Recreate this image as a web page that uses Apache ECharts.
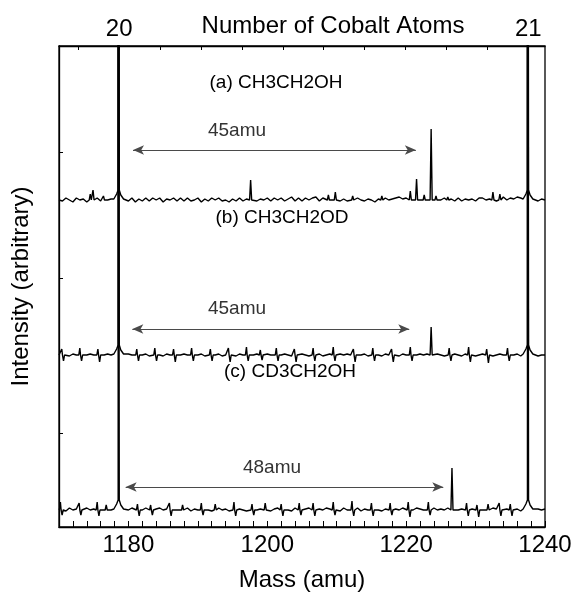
<!DOCTYPE html>
<html><head><meta charset="utf-8">
<script src="https://cdn.jsdelivr.net/npm/echarts@6/dist/echarts.min.js"></script>
<style>html,body{margin:0;padding:0;background:#fff}#c{width:573px;height:595px}</style>
</head><body><div id="c"></div>
<script>
// ---------- data ----------
const massStart = 1170, massStep = 0.5;      // noise sampling grid (amu)
const cobaltMass = 58.933;
const topTickAtoms = [19.9,20.0,20.1,20.2,20.3,20.4,20.5,20.6,20.7,20.8,20.9,21.0];
const topLabelAtoms = [20, 21];
const bottomLabels = [1180, 1200, 1220, 1240];
const sampleNames = ['(a) CH3CH2OH', '(b) CH3CH2OD', '(c) CD3CH2OH'];
const shiftLabels = ['45amu', '45amu', '48amu'];
const shiftArrows = [[1180.66, 1221.4], [1180.56, 1220.45], [1179.6, 1225.35]];
const offsets = [327, 172, 17];        // vertical offsets of the three traces
const arrowLevels = [377, 198, 40];

const noiseA = [
0,-1,2,0,-2,2,0,1,-2,1,
0,2,-1,2,0,1,2,3,0,0,
-1,2,-2,1,-1,2,-1,2,0,2,
-2,1,0,2,-1,2,-1,2,-1,0,
2,-2,1,-1,2,0,2,-1,0,-2,
1,-1,2,-1,1,-1,2,-1,1,0,
2,-1,2,0,2,-1,1,3,-1,2,
-1,2,0,2,3,-1,2,-1,2,0,
2,-1,1,-1,2,0,2,0,-1,1,
0,-2,1,-1,2,0,1,2,3,1,
2,0,1,2,0,1,2,0,1,-1,
0,2,-1,1,-1,2,-1,1,0,1,
-1,2,2,0,1,2,-1,1,3,0,
2,1,3,2,0,1,-1,2,-1,1,
0];
const noiseB = [
0,1,0,-1,1,0,1,-1,0,1,
0,-1,1,0,1,0,-1,1,0,0,
1,0,-1,1,0,1,-1,0,1,0,
-1,1,0,1,-1,0,1,0,-1,1,
0,1,-1,0,1,0,1,-1,0,1,
0,-1,1,0,1,-1,0,1,0,-1,
1,0,1,-1,0,1,0,-1,1,0,
1,0,-1,1,0,1,-1,0,1,0,
-1,1,0,1,0,-1,1,0,1,-1,
0,1,0,-1,1,0,1,0,-1,1,
0,1,-1,0,1,0,1,0,-1,1,
0,-1,1,0,1,0,-1,1,0,1,
-1,0,1,0,1,-1,0,1,0,-1,
1,0,1,-1,0,1,1,0,-1,0,
0];
const noiseC = [
1,0,-1,2,0,1,-1,0,2,0,
1,-1,0,2,1,0,1,2,0,1,
0,2,-1,1,0,2,0,-1,1,2,
0,1,-1,2,0,1,0,2,-1,1,
0,2,1,0,-1,1,2,0,1,-1,
2,0,1,0,-1,2,1,0,1,2,
0,-1,1,2,0,1,0,-1,2,1,
0,1,2,0,-1,1,0,2,1,0,
1,-1,2,0,1,0,2,-1,1,0,
2,1,0,-1,1,2,0,1,0,2,
-1,1,0,2,1,0,-1,1,2,0,
1,0,2,-1,1,0,1,2,0,1,
-1,2,0,1,0,2,1,-1,0,1,
2,0,1,-1,0,1,0,2,1,0,
1];

const peaksA = [[1174.5,6],[1174.9,10],[1176.4,4],[1178.6,1000],[1197.6,20],[1208.8,5],[1209.8,8],
 [1212.3,4],[1216.5,4],[1220.6,9],[1221.5,21],[1222.6,5],[1223.6,71],[1224.3,4],[1226.0,3],
 [1232.5,8],[1233.5,6],[1237.55,1000]];
const peaksB = [[1170.4,6],[1170.65,-6],[1173.0,7],[1173.25,-6],[1175.6,6],[1175.85,-7],[1178.6,1000],
 [1181.2,6],[1181.45,-6],[1183.8,7],[1184.05,-6],[1186.5,6],[1186.75,-7],[1189.1,7],[1189.35,-6],
 [1191.8,6],[1192.05,-6],[1194.4,7],[1194.65,-7],[1197.0,8],[1197.25,-6],[1199.0,5],[1199.25,-5],
 [1201.3,7],[1201.55,-6],[1203.9,6],[1204.15,-7],[1206.6,7],[1206.85,-6],[1209.5,8],[1209.75,-6],
 [1212.4,6],[1212.65,-7],[1215.2,7],[1215.45,-6],[1217.9,6],[1218.15,-7],[1220.6,8],[1220.85,-6],
 [1223.6,28],[1226.2,7],[1226.45,-6],[1229.0,8],[1229.25,-7],[1231.6,6],[1231.85,-8],[1234.6,7],
 [1234.85,-6],[1237.55,1000]];
const peaksC = [[1170.2,8],[1170.45,-5],[1172.9,7],[1173.15,-5],[1175.5,8],[1175.75,-6],[1176.8,5],
 [1178.6,1000],[1181.3,6],[1181.55,-6],[1183.2,5],[1183.45,-5],[1185.9,7],[1186.15,-6],[1187.8,5],
 [1190.5,7],[1190.75,-5],[1192.5,6],[1195.2,8],[1195.45,-6],[1197.8,6],[1198.05,-5],[1199.7,7],
 [1202.0,6],[1202.25,-6],[1204.6,7],[1204.85,-5],[1206.6,7],[1206.85,-6],[1209.5,8],[1209.75,-5],
 [1212.2,9],[1212.45,-6],[1215.0,7],[1215.25,-6],[1217.7,7],[1217.95,-5],[1220.3,8],[1220.55,-7],
 [1223.2,8],[1223.45,-5],[1226.6,42],[1228.7,7],[1228.95,-6],[1230.2,5],[1230.45,-7],[1231.8,6],
 [1233.4,7],[1233.65,-6],[1235.0,6],[1235.25,-6],[1237.55,1000]];
const yTicks = [94, 249, 375];

// ---------- build ----------
function build(noise, peaks, off) {
  const pts = [];
  noise.forEach((v, i) => {
    const m = massStart + i * massStep;
    const near = peaks.some(p => Math.abs(p[0] - m) < (p[1] >= 500 ? 0.75 : 0.3));
    if (!near) pts.push([m, v]);
  });
  peaks.forEach(([m, h]) => {
    if (h >= 500) pts.push([m-0.7,1],[m-0.3,6],[m-0.08,10],[m-0.07,h],[m+0.07,h],[m+0.08,10],[m+0.3,5],[m+0.7,1]);
    else pts.push([m-0.15,0],[m,h],[m+0.15,0]);
  });
  pts.sort((a, b) => a[0] - b[0]);
  return pts.map(p => [p[0], p[1] + off]);
}
const traces = [build(noiseA, peaksA, offsets[0]), build(noiseB, peaksB, offsets[1]), build(noiseC, peaksC, offsets[2])];

const FONT = "'Liberation Sans', Arial, sans-serif";
const chart = echarts.init(document.getElementById('c'), null, {renderer: 'canvas'});
const G = {left: 59, right: 28, top: 46, bottom: 68};

const series = traces.map((d, i) => ({
  type: 'line', data: d, xAxisIndex: 0, yAxisIndex: 0, showSymbol: false, symbol: 'none',
  lineStyle: {color: '#000', width: 1.4}, clip: true, animation: false, z: 3,
  markLine: {
    silent: true, symbol: ['arrow', 'arrow'], symbolSize: [7, 11], animation: false,
    lineStyle: {color: '#4a4a4a', width: 1, type: 'solid'}, label: {show: false},
    data: [[{coord: [shiftArrows[i][0], arrowLevels[i]]}, {coord: [shiftArrows[i][1], arrowLevels[i]]}]]
  }
}));

chart.setOption({
  animation: false,
  grid: {left: G.left, right: G.right, top: G.top, bottom: G.bottom, containLabel: false, outerBoundsMode: 'none',
    show: true, borderColor: '#000', borderWidth: 1.3},
  xAxis: [{
    type: 'value', min: 1170, max: 1240, interval: 10, position: 'bottom',
    axisLine: {show: true, lineStyle: {color: '#000', width: 1.3}},
    axisTick: {show: true, inside: true, length: 6, lineStyle: {color: '#000', width: 1}},
    minorTick: {show: true, splitNumber: 5, length: 6, lineStyle: {color: '#000', width: 1}},
    axisLabel: {show: true, margin: 6, color: '#000', fontSize: 24, fontFamily: FONT,
      formatter: v => bottomLabels.includes(Math.round(v)) ? String(Math.round(v)) : ''},
    splitLine: {show: false},
    name: 'Mass (amu)', nameLocation: 'middle', nameGap: 41,
    nameTextStyle: {color: '#000', fontSize: 24, fontFamily: FONT}
  }, {
    type: 'value', min: 1170, max: 1240, position: 'top',
    axisLine: {show: true, lineStyle: {color: '#000', width: 1.3}},
    axisTick: {show: true, inside: true, length: 4, lineStyle: {color: '#000', width: 1},
      customValues: topTickAtoms.map(a => a * cobaltMass)},
    axisLabel: {show: true, margin: 5, color: '#000', fontSize: 24, fontFamily: FONT,
      customValues: topLabelAtoms.map(a => a * cobaltMass),
      formatter: v => String(Math.round(v / cobaltMass))},
    splitLine: {show: false}
  }],
  yAxis: [{
    type: 'value', min: 0, max: 481,
    axisLine: {show: true, lineStyle: {color: '#000', width: 1.3}},
    axisTick: {show: true, inside: true, length: 4, lineStyle: {color: '#000', width: 1}, customValues: yTicks},
    axisLabel: {show: false}, splitLine: {show: false},
    name: 'Intensity (arbitrary)', nameLocation: 'middle', nameGap: 26,
    nameTextStyle: {color: '#000', fontSize: 24, fontFamily: FONT}
  }],
  graphic: [
    {type: 'text', x: 333, y: 26, style: {text: 'Number of Cobalt Atoms', font: '24px ' + FONT, fill: '#000', textAlign: 'center', textVerticalAlign: 'middle'}},
    {type: 'text', x: 276, y: 83, style: {text: sampleNames[0], font: '19px ' + FONT, fill: '#000', textAlign: 'center', textVerticalAlign: 'middle'}},
    {type: 'text', x: 282, y: 218, style: {text: sampleNames[1], font: '19px ' + FONT, fill: '#000', textAlign: 'center', textVerticalAlign: 'middle'}},
    {type: 'text', x: 290, y: 372, style: {text: sampleNames[2], font: '19px ' + FONT, fill: '#000', textAlign: 'center', textVerticalAlign: 'middle'}},
    {type: 'text', x: 237, y: 131, style: {text: shiftLabels[0], font: '19px ' + FONT, fill: '#333', textAlign: 'center', textVerticalAlign: 'middle'}},
    {type: 'text', x: 237, y: 309, style: {text: shiftLabels[1], font: '19px ' + FONT, fill: '#333', textAlign: 'center', textVerticalAlign: 'middle'}},
    {type: 'text', x: 272, y: 468, style: {text: shiftLabels[2], font: '19px ' + FONT, fill: '#333', textAlign: 'center', textVerticalAlign: 'middle'}}
  ],
  series: series
});
</script></body></html>
